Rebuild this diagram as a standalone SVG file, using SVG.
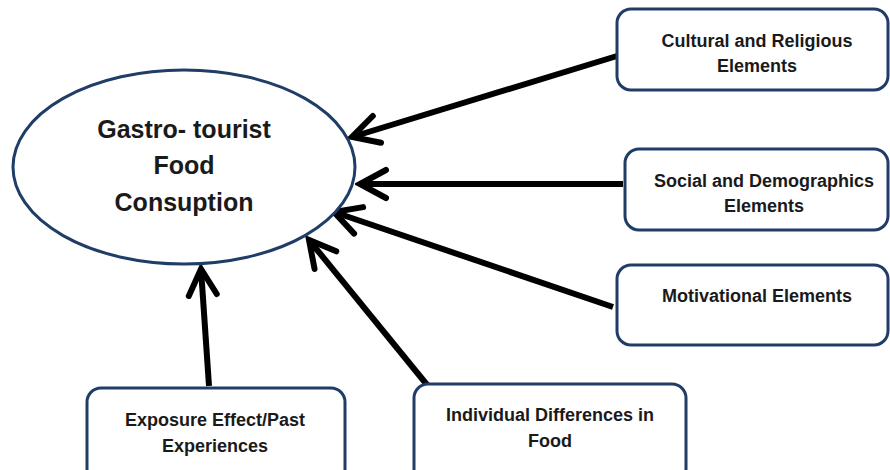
<svg xmlns="http://www.w3.org/2000/svg" width="890" height="470" viewBox="0 0 890 470">
<style>
.box{fill:#fff;stroke:#1F3D66;stroke-width:3}
.t{font-family:"Liberation Sans",Arial,sans-serif;font-weight:bold;font-size:18px;fill:#1a1a1a;text-anchor:middle}
.big{font-size:25px}
.c{stroke:#000;stroke-width:6;fill:none}
</style>
<defs>
<marker id="ah" markerUnits="userSpaceOnUse" viewBox="0 0 36 36" markerWidth="36" markerHeight="36" refX="31" refY="18" orient="auto">
<path d="M5,4 L31,18 L5,32" fill="none" stroke="#000" stroke-width="6" stroke-linecap="round" stroke-linejoin="miter"/>
</marker>
</defs>
<rect width="890" height="470" fill="#fff"/>
<g id="connectors">
<line class="c" x1="617" y1="56" x2="352" y2="137" marker-end="url(#ah)"/>
<line class="c" x1="623" y1="184" x2="360" y2="184" marker-end="url(#ah)"/>
<line class="c" x1="613" y1="307" x2="334" y2="212" marker-end="url(#ah)"/>
<line class="c" x1="428" y1="386" x2="309" y2="240" marker-end="url(#ah)"/>
<line class="c" x1="209" y1="386" x2="201" y2="269" marker-end="url(#ah)"/>
</g>
<g id="center">
<ellipse class="box" cx="184" cy="167" rx="171" ry="97"/>
<text class="t big" x="184" y="138">Gastro- tourist</text>
<text class="t big" x="184" y="174">Food</text>
<text class="t big" x="184" y="211">Consuption</text>
</g>
<g id="cultural">
<rect class="box" x="617" y="9" width="271" height="81" rx="14"/>
<text class="t" x="757" y="47">Cultural and Religious</text>
<text class="t" x="757" y="72">Elements</text>
</g>
<g id="social">
<rect class="box" x="625" y="149" width="263" height="81" rx="14"/>
<text class="t" x="764" y="187">Social and Demographics</text>
<text class="t" x="764" y="212">Elements</text>
</g>
<g id="motivational">
<rect class="box" x="617" y="265" width="271" height="80" rx="14"/>
<text class="t" x="757" y="302">Motivational Elements</text>
</g>
<g id="exposure">
<rect class="box" x="87" y="388" width="258" height="95" rx="14"/>
<text class="t" x="215" y="426">Exposure Effect/Past</text>
<text class="t" x="215" y="452">Experiences</text>
</g>
<g id="individual">
<rect class="box" x="414" y="384" width="272" height="99" rx="14"/>
<text class="t" x="550" y="421">Individual Differences in</text>
<text class="t" x="550" y="447">Food</text>
</g>
</svg>
